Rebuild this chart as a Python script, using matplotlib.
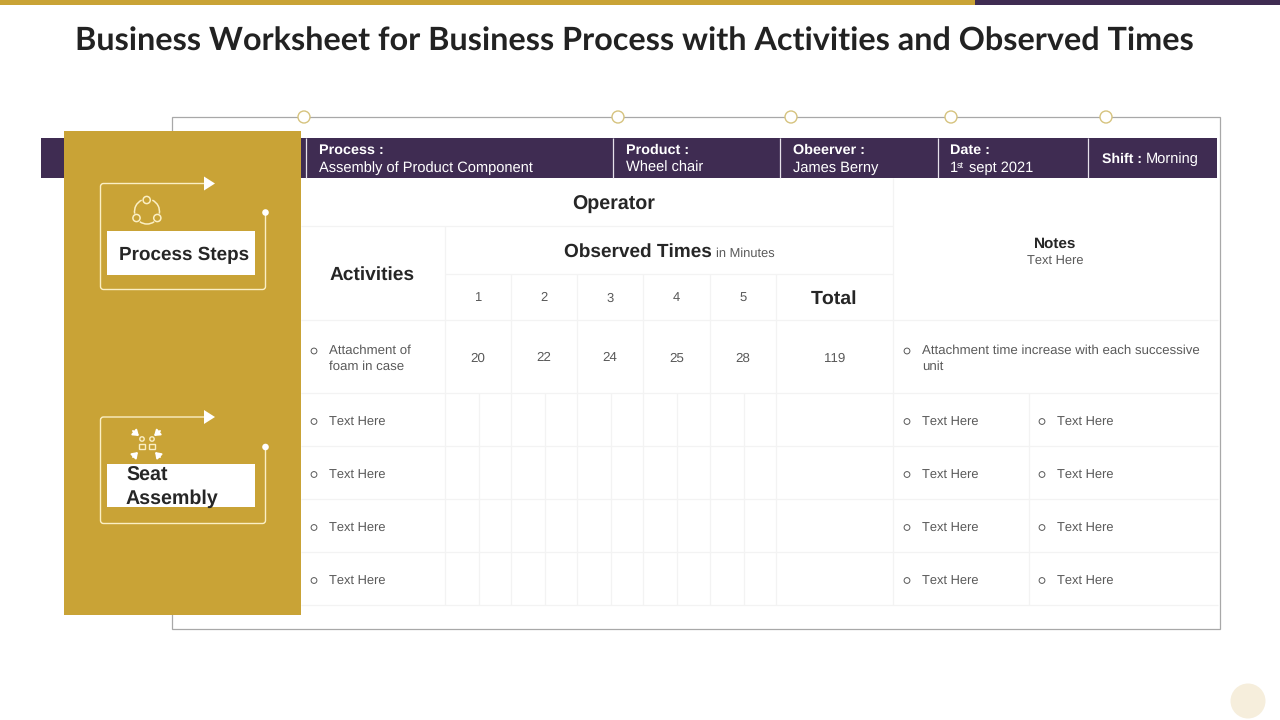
import matplotlib
matplotlib.use("Agg")
import matplotlib.pyplot as plt
from matplotlib.patches import Rectangle, Circle, Polygon, FancyArrowPatch, Arc, PathPatch
from matplotlib.path import Path

plt.rcParams["text.hinting"] = "no_hinting"
plt.rcParams["text.kerning_factor"] = 6

# ---- content ----
title = "Business Worksheet for Business Process with Activities and Observed Times"
header_labels = ["Process :", "Product :", "Obeerver :", "Date :"]
header_values = ["Assembly of Product Component", "Wheel chair", "James Berny", "sept 2021"]
minute_columns = ["1", "2", "3", "4", "5"]
observed_values = [20, 22, 24, 25, 28]
observed_total = 119
row_placeholder = "Text Here"
activity_lines = ["Attachment of", "foam in case"]
note_lines = ["Attachment time increase with each successive", "unit"]

# ---- layout ----
GOLD = "#C9A336"
PURPLE = "#3F2C52"
FRAME = "#A8A8A8"
GRID = "#F3F3F3"
DARK = "#262626"
GREY = "#595959"
SANS = "Liberation Sans"

fig = plt.figure(figsize=(12.8, 7.2), dpi=100, facecolor="white")
ax = fig.add_axes([0, 0, 1, 1])
ax.set_xlim(0, 1280)
ax.set_ylim(720, 0)
ax.axis("off")


def rect(x0, y0, x1, y1, color, z=1):
    ax.add_patch(Rectangle((x0, y0), x1 - x0, y1 - y0, facecolor=color, edgecolor="none", zorder=z))


def line(xs, ys, color=GRID, lw=0.9, z=2):
    ax.plot(xs, ys, color=color, lw=lw, zorder=z, solid_capstyle="butt", solid_joinstyle="round")


def text(x, y, s, size, color=DARK, weight="normal", ha="left", family=SANS, z=6):
    return ax.text(x, y + 2.6, s, fontsize=size, color=color, fontweight=weight, ha=ha, va="center",
                   family=family, zorder=z)


# top strip, title, corner circle
rect(0, 0, 975, 5, GOLD)
rect(975, 0, 1280, 5, PURPLE)
text(634, 38.5, title, 23.35, color="#222222", weight="bold", ha="center", family="Lato")
ax.add_patch(Circle((1248, 701), 17.5, facecolor="#F6EEDC", edgecolor="none"))

# outer frame with beads
ax.add_patch(Rectangle((171.8, 116.8), 1048.5, 512, facecolor="white", edgecolor=FRAME, lw=0.9, zorder=1))
for bx in [304, 618, 791, 951, 1106]:
    ax.add_patch(Circle((bx, 117), 6, facecolor="white", edgecolor="#D6C37E", lw=1.0, zorder=3))

# header band
rect(41, 138, 1217, 178, PURPLE, z=2)
for sx in [306, 613.2, 780.2, 937.7, 1088.2]:
    line([sx, sx], [138, 178], color="#E6E1EA", lw=0.9, z=3)
for hx, lab, val in zip([319, 626, 793, 950], header_labels, header_values):
    text(hx, 147.5, lab, 10.4, color="white", weight="bold")
    if val == "sept 2021":
        text(hx, 165.5, "1", 10.5, color="white")
        text(hx + 7, 162.5, "st", 6.6, color="white")
        text(hx + 19, 165.5, val, 10.5, color="white")
    else:
        text(hx, 165.5, val, 10.5, color="white")
text(1102, 156.5, "Shift :", 10.2, color="white", weight="bold")
text(1146, 156.5, "Morning", 10.5, color="white")

# table rules
line([301, 893], [226, 226])
line([445, 893], [274, 274])
row_rules = [320, 393, 446, 499, 552, 605]
for ry in row_rules:
    line([301, 1218], [ry, ry])
line([445, 445], [226, 605])
line([893, 893], [178, 605])
line([1029, 1029], [393, 605])
col_edges = [445, 511, 577, 643, 710, 776, 893]
for cx in col_edges[1:-1]:
    line([cx, cx], [274, 605])
for a, b in zip(col_edges[:5], col_edges[1:6]):
    line([(a + b) / 2 + 0.5] * 2, [393, 605])

# table headings
text(614, 202, "Operator", 14.1, weight="bold", ha="center")
text(372, 272, "Activities", 13.8, weight="bold", ha="center")
text(564, 249, "Observed Times", 13.7, weight="bold")
text(716, 251, "in Minutes", 9.3, color=GREY)
text(834.5, 296, "Total", 14, weight="bold", ha="center")
text(1055, 241.5, "Notes", 11, weight="bold", ha="center")
text(1055, 259, row_placeholder, 9.3, color=GREY, ha="center")

centers = [478, 544, 610, 676.5, 743]
for cx, lab in zip(centers, minute_columns):
    text(cx, 295.5, lab, 9.4, color=GREY, ha="center")
for cx, v in zip([478, 544, 610, 677, 743], observed_values):
    text(cx, 355.5, str(v), 9.6, color=GREY, ha="center")
text(835, 355.5, str(observed_total), 9.6, color=GREY, ha="center")


def bullet(x, y):
    ax.add_patch(Circle((x, y), 2.9, facecolor="white", edgecolor=GREY, lw=0.7, zorder=5))


# first row
bullet(314, 351)
text(329, 348, activity_lines[0], 9.5, color=GREY)
text(329, 364, activity_lines[1], 9.5, color=GREY)
bullet(907, 351)
text(922, 348, note_lines[0], 9.55, color=GREY)
text(922, 364, note_lines[1], 9.5, color=GREY)

# placeholder rows
for ry in [419.5, 472.5, 525.5, 578.5]:
    for bx in [314, 907, 1042]:
        bullet(bx, ry + 2)
        text(bx + 15, ry, row_placeholder, 9.25, color=GREY)

# gold panel
rect(64, 131, 301, 615, GOLD, z=4)
OUT = "#FBEFC4"


def card(top, bottom, dot_y, box_top, box_bottom):
    L, R, c = 100.5, 265.5, 3
    verts = [(205, top), (L + c, top), (L, top), (L, top + c), (L, bottom - c), (L, bottom), (L + c, bottom),
             (R - c, bottom), (R, bottom), (R, bottom - c), (R, dot_y)]
    codes = [Path.MOVETO, Path.LINETO, Path.CURVE3, Path.CURVE3, Path.LINETO, Path.CURVE3, Path.CURVE3,
             Path.LINETO, Path.CURVE3, Path.CURVE3, Path.LINETO]
    ax.add_patch(PathPatch(Path(verts, codes), facecolor="none", edgecolor=OUT, lw=1.0, zorder=5))
    ax.add_patch(Polygon([(204, top - 7), (215, top), (204, top + 7)], facecolor="white", edgecolor="none", zorder=5))
    ax.add_patch(Circle((265.5, dot_y), 3.3, facecolor="white", edgecolor="none", zorder=5))
    rect(107, box_top, 255, box_bottom, "white", z=5)


card(183.5, 289.5, 212.5, 231, 275)
card(417, 523.5, 447, 464, 507)
text(119, 252.5, "Process Steps", 13.6, weight="bold")
text(126, 473, "Seat", 14.1, weight="bold")
text(126, 496, "Assembly", 14.1, weight="bold")

# process-cycle icon
for ix, iy in [(146.7, 200), (136.5, 218), (157.3, 218)]:
    ax.add_patch(Circle((ix, iy), 3.6, facecolor="none", edgecolor=OUT, lw=1.1, zorder=5))
for t1, t2 in [(170, 245), (295, 370), (55, 125)]:
    ax.add_patch(Arc((147, 211.5), 25, 25, theta1=t1, theta2=t2, edgecolor=OUT, lw=1.1, zorder=5))

# seat-assembly icon
for ix, iy in [(142, 439), (152, 439)]:
    ax.add_patch(Circle((ix, iy), 2.2, facecolor="none", edgecolor=OUT, lw=1.0, zorder=5))
for ix in [138.5, 148.5]:
    ax.add_patch(Rectangle((ix, 444), 6.5, 4.5, facecolor="none", edgecolor=OUT, lw=1.0, zorder=5))
for p, q in [((133, 431), (139, 436)), ((160, 431), (154, 436)), ((133, 457), (138, 452)), ((160, 457), (155, 452))]:
    ax.add_patch(FancyArrowPatch(p, q, arrowstyle="-|>,head_length=2,head_width=1.4", mutation_scale=1.6,
                                 color="white", lw=1.4, zorder=5, shrinkA=0, shrinkB=0))

fig.savefig("out.png", dpi=100, facecolor="white")
